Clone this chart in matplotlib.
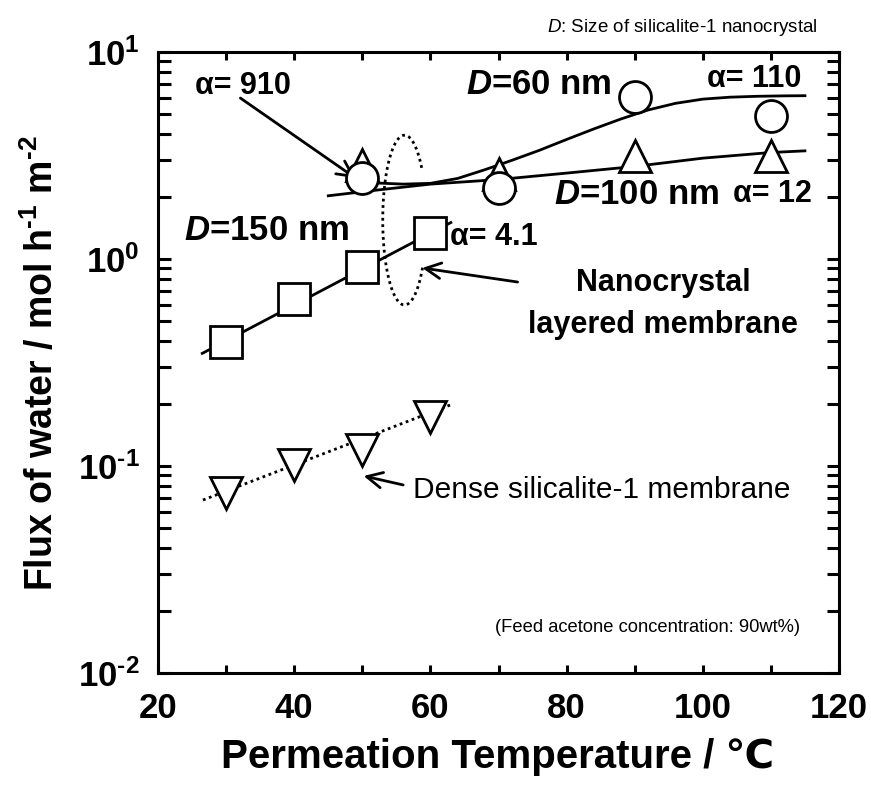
import numpy as np
import matplotlib
matplotlib.use("Agg")
from matplotlib import pyplot as plt
from matplotlib.ticker import FixedLocator, LogLocator, NullFormatter

FONT = 'Liberation Sans'

plt.rcParams['mathtext.fontset'] = 'custom'
plt.rcParams['mathtext.rm'] = 'Liberation Sans:bold'
plt.rcParams['mathtext.it'] = 'Liberation Sans:italic:bold'
plt.rcParams['mathtext.sf'] = 'Liberation Sans:italic'

# measured points
temp_low = [30, 40, 50, 60]
temp_high = [50, 70, 90, 110]
flux_60 = [2.46, 2.20, 6.06, 4.91]
flux_100 = [2.85, 2.57, 3.16, 3.14]
flux_150 = [0.397, 0.641, 0.915, 1.34]
flux_dense = [0.0741, 0.101, 0.119, 0.172]

# hand drawn guide curves
curve60_t = [52, 56, 60, 64, 68, 72, 76, 80, 84, 88, 92, 96, 100, 104, 108, 112, 115]
curve60_f = [2.33, 2.30, 2.32, 2.45, 2.70, 3.0, 3.35, 3.78, 4.25, 4.75, 5.25, 5.65,
             5.92, 6.05, 6.11, 6.14, 6.15]
curve100_t = [45, 52, 60, 70, 80, 90, 100, 110, 115]
curve100_f = [2.02, 2.15, 2.30, 2.42, 2.60, 2.80, 3.07, 3.27, 3.33]
fit150_t = [26.5, 63]
fit150_f = [0.35, 1.5]
fitdense_t = [26.6, 62.9]
fitdense_f = [0.0685, 0.197]

xticks = [20, 40, 60, 80, 100, 120]
yticks = [0.01, 0.1, 1, 10]
ytick_labels = [r'$\mathdefault{10^{\text{-}2}}$', r'$\mathdefault{10^{\text{-}1}}$',
                r'$\mathdefault{10^{0}}$', r'$\mathdefault{10^{1}}$']

W, H = 871, 789


def px(x, y):
    return x / W, 1 - y / H


fig = plt.figure(figsize=(W / 100, H / 100), dpi=100)
ax = fig.add_axes([158 / W, 1 - 673 / H, (839 - 158) / W, (673 - 52) / H])
ax.set_yscale('log')
ax.set_xlim(20, 120)
ax.set_ylim(0.01, 10)

# lines
ax.plot(curve60_t, curve60_f, color='black', lw=2, zorder=2)
ax.plot(curve100_t, curve100_f, color='black', lw=2, zorder=2)
ax.plot(fit150_t, fit150_f, color='black', lw=2, zorder=2)
ax.plot(fitdense_t, fitdense_f, color='black', lw=2, ls=(0, (1, 1.3)), zorder=2)

# markers
mk = dict(ls='none', mfc='white', mec='black', mew=2, ms=23)
ax.plot(temp_high, flux_100, marker='^', zorder=3, **mk)
ax.plot(temp_high, flux_60, marker='o', zorder=4, **mk)
ax.plot(temp_low, flux_150, marker='s', zorder=3, **mk)
ax.plot(temp_low, flux_dense, marker='v', zorder=3, **mk)

# dotted loop round the nanocrystal membranes
t = np.radians(np.linspace(38, 327, 200))
ax.plot(56.2 + 3.2 * np.cos(t), 10 ** (0.188 + 0.41 * np.sin(t)),
        color='black', lw=2, ls=(0, (1, 1.3)), zorder=2)

arrow = dict(arrowstyle='->', lw=2, color='black', mutation_scale=28,
             shrinkA=0, shrinkB=0)
ax.annotate('', xy=(49.0, 2.46), xytext=(32.1, 5.99), arrowprops=arrow)
ax.annotate('', xy=(58.8, 0.905), xytext=(72.8, 0.774), arrowprops=arrow)
ax.annotate('', xy=(50.2, 0.0895), xytext=(56.0, 0.081), arrowprops=arrow)

# axes style
for s in ax.spines.values():
    s.set_linewidth(2.2)
ax.set_xticks(xticks, [str(v) for v in xticks], family=FONT, weight='bold', fontsize=25)
ax.xaxis.set_minor_locator(FixedLocator([30, 50, 70, 90, 110]))
ax.set_yticks(yticks, ytick_labels, family=FONT, weight='bold', fontsize=25)
ax.yaxis.set_minor_locator(LogLocator(base=10, subs=np.arange(2, 10), numticks=10))
ax.yaxis.set_minor_formatter(NullFormatter())
ax.set_ylim(0.01, 10)
ax.tick_params(axis='both', which='both', direction='in', top=True, right=True, width=2.2)
ax.tick_params(axis='x', which='both', length=6, pad=14)
ax.tick_params(axis='y', which='both', length=9, pad=13)

fig.text(*px(42, 363), r'Flux of water / mol h$^{\text{-}1}$ m$^{\text{-}2}$',
         rotation=90, ha='center', va='center', family=FONT, weight='bold', fontsize=27)
fig.text(*px(498, 757), 'Permeation Temperature / ℃', ha='center', va='center',
         family=[FONT, 'DejaVu Sans'], weight='bold', fontsize=29)

# annotations
bold = dict(family=FONT, weight='bold', va='center', ha='left')
fig.text(*px(195, 86), 'α= 910', fontsize=22, **bold)
fig.text(*px(707, 79), 'α= 110', fontsize=22, **bold)
fig.text(*px(733, 194), 'α= 12', fontsize=22, **bold)
fig.text(*px(450, 237), 'α= 4.1', fontsize=22, **bold)
fig.text(*px(466, 85), r'$\mathit{D}$=60 nm', fontsize=25, **bold)
fig.text(*px(554, 195), r'$\mathit{D}$=100 nm', fontsize=25, **bold)
fig.text(*px(184, 230), r'$\mathit{D}$=150 nm', fontsize=25, **bold)
fig.text(*px(663, 283), 'Nanocrystal', family=FONT, weight='bold', fontsize=22,
         ha='center', va='center')
fig.text(*px(663, 325), 'layered membrane', family=FONT, weight='bold', fontsize=22,
         ha='center', va='center')
fig.text(*px(413, 490), 'Dense silicalite-1 membrane', family=FONT, fontsize=21.5,
         ha='left', va='center')
fig.text(*px(800, 628), '(Feed acetone concentration: 90wt%)', family=FONT,
         fontsize=13.2, ha='right', va='center')
fig.text(*px(818, 28), r'$\mathsf{D}$: Size of silicalite-1 nanocrystal', family=FONT,
         fontsize=13.5, ha='right', va='center')

fig.savefig('out.png', dpi=100)
